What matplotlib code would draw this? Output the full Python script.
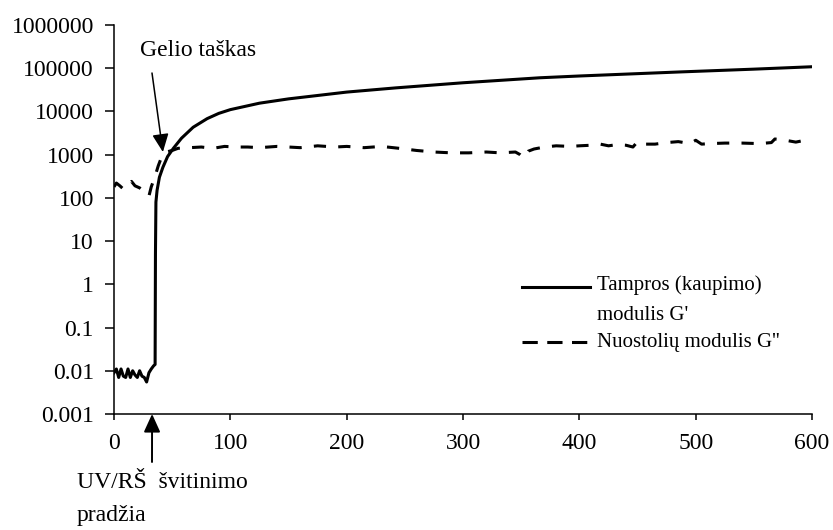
import matplotlib
matplotlib.use("Agg")
import matplotlib.pyplot as plt
from matplotlib.lines import Line2D

plt.rcParams['font.family'] = ['Liberation Serif', 'DejaVu Serif']

# Storage modulus G' (solid)
time_storage = [0, 2, 4, 6, 8, 10, 12, 14, 16, 18, 20, 22, 24, 26, 28, 30, 32, 34,
                35.3, 35.6, 36, 37, 39, 42, 46, 51, 58, 68, 80, 90, 100, 125, 150,
                200, 242, 300, 366, 400, 487, 550, 600]
storage_mod = [0.009, 0.011, 0.007, 0.011, 0.0075, 0.007, 0.011, 0.007, 0.010,
               0.008, 0.007, 0.010, 0.0075, 0.007, 0.0055, 0.009, 0.011, 0.013,
               0.014, 5, 80, 150, 300, 510, 900, 1400, 2400, 4300, 6800, 9000, 11000,
               15500, 19500, 28000, 35000, 46000, 60000, 66000, 82000,
               95000, 108000]

# Loss modulus G'' (dashed)
time_loss = [0, 2, 5, 8, 12, 15, 18, 22, 26, 30, 32, 35, 38, 41, 45, 50, 55, 65, 75,
             85, 95, 105, 115, 125, 140, 150, 160, 175, 190, 200, 215, 230, 245, 260,
             275, 290, 305, 320, 332, 345, 349, 352, 356, 361, 370, 380, 392, 400,
             410, 418, 425, 432, 440, 446, 450, 455, 465, 475, 485, 495, 500, 505,
             512, 525, 540, 555, 565, 568, 575, 586, 592, 600]
loss_mod = [180, 220, 190, 160, 200, 240, 190, 170, 140, 110, 180, 300, 550, 900,
            1150, 1250, 1400, 1450, 1500, 1400, 1550, 1500, 1500, 1450, 1550, 1500,
            1450, 1600, 1500, 1550, 1450, 1550, 1400, 1250, 1150, 1100, 1100, 1150,
            1100, 1150, 1000, 850, 1200, 1350, 1500, 1600, 1550, 1600, 1650, 1750,
            1600, 1700, 1650, 1500, 2000, 1750, 1750, 1900, 2000, 1800, 2150, 1750,
            1800, 1850, 1850, 1800, 1900, 2300, 2200, 1950, 2100, 2500]

x_ticks = [0, 100, 200, 300, 400, 500, 600]
y_ticks = [0.001, 0.01, 0.1, 1, 10, 100, 1000, 10000, 100000, 1000000]
y_tick_labels = ['0.001', '0.01', '0.1', '1', '10', '100', '1000', '10000',
                 '100000', '1000000']

label_storage = ["Tampros (kaupimo)", "modulis G'"]
label_loss = "Nuostolių modulis G''"

FS = 17
W, H = 833, 530
LW = 2.2

fig = plt.figure(figsize=(8.33, 5.30), dpi=100)
ax = fig.add_axes([0.1369, 0.2189, 0.838, 0.734])

ax.plot(time_storage, storage_mod, color='black', lw=LW, solid_joinstyle='round')
ax.plot(time_loss, loss_mod, color='black', lw=LW, linestyle=(0, (4.0, 4.0)))

ax.set_yscale('log')
ax.set_xlim(0, 600)
ax.set_ylim(0.001, 1000000)
ax.set_xticks(x_ticks)
ax.set_yticks(y_ticks)
ax.set_yticklabels(y_tick_labels)
ax.minorticks_off()
ax.tick_params(axis='y', direction='out', length=6.5, width=1.1, pad=8, labelsize=FS)
ax.tick_params(axis='x', direction='out', length=4, width=1.1, pad=10, labelsize=FS)
for side in ('top', 'right'):
    ax.spines[side].set_visible(False)
for side in ('left', 'bottom'):
    ax.spines[side].set_linewidth(1.1)

# Legend, handle aligned with the first line of each entry
def fx(px):
    return px / W

def fy(py):
    return 1 - py / H

fig.add_artist(Line2D([fx(522), fx(590)], [fy(287), fy(287)], color='black', lw=LW))
fig.add_artist(Line2D([fx(522), fx(590)], [fy(342), fy(342)], color='black', lw=LW,
                      linestyle=(0, (5.0, 3.1))))
fig.text(fx(597), fy(285), label_storage[0], fontsize=15, ha='left', va='center')
fig.text(fx(597), fy(315), label_storage[1], fontsize=15, ha='left', va='center')
fig.text(fx(597), fy(342), label_loss, fontsize=15, ha='left', va='center')

arrow = dict(arrowstyle='-|>,head_length=0.55,head_width=0.25', color='black',
             lw=1.1, mutation_scale=20, shrinkA=0, shrinkB=0)

# Gel point annotation
fig.text(fx(198), fy(51), 'Gelio taškas', fontsize=FS, ha='center', va='center')
ax.annotate('', xy=(42, 1150), xytext=(152, H - 73),
            xycoords='data', textcoords='figure pixels', arrowprops=arrow)

# Start of UV irradiation
ax.annotate('', xy=(32.7, 0.001), xytext=(152, H - 462),
            xycoords='data', textcoords='figure pixels', annotation_clip=False,
            arrowprops=dict(arrow, lw=1.4))
fig.text(fx(77), fy(482), 'UV/RŠ  švitinimo', fontsize=FS, ha='left', va='center')
fig.text(fx(77), fy(515), 'pradžia', fontsize=FS, ha='left', va='center')

fig.savefig('out.png', dpi=100)
